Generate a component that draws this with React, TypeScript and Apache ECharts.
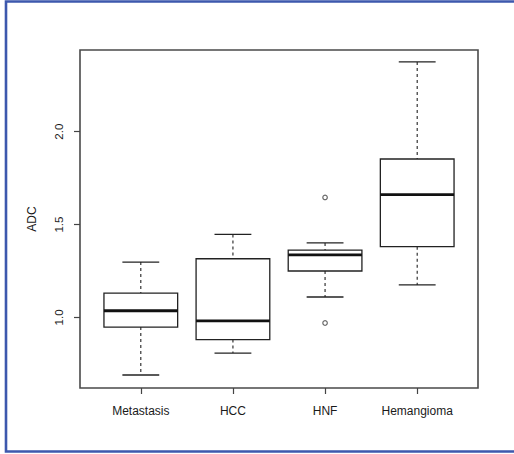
import React, { useEffect, useRef } from "react";
import * as echarts from "echarts";

const categories = ["Metastasis", "HCC", "HNF", "Hemangioma"];
const lowerWhisker = [0.69, 0.808, 1.11, 1.175];
const q1 = [0.948, 0.881, 1.25, 1.381];
const median = [1.036, 0.981, 1.337, 1.661];
const q3 = [1.131, 1.316, 1.362, 1.853];
const upperWhisker = [1.298, 1.447, 1.401, 2.376];
const outlierCategory = [3, 3];
const outlierValue = [1.646, 0.97];
const yTicks = [1.0, 1.5, 2.0];

const LINE = "#222";

export default function App() {
  const ref = useRef<HTMLDivElement>(null);
  useEffect(() => {
    if (!ref.current) return;
    const chart = echarts.init(ref.current, null, { renderer: "svg" });
    const boxData = categories.map((_, i) => [
      i + 1,
      lowerWhisker[i],
      q1[i],
      median[i],
      q3[i],
      upperWhisker[i],
    ]);
    const outlierData = outlierValue.map((v, i) => [outlierCategory[i], v]);
    const font = "'Liberation Sans', Arial, sans-serif";
    chart.setOption({
      animation: false,
      backgroundColor: "#fff",
      graphic: [
        {
          type: "rect",
          shape: { x: 6, y: 1.5, width: 530, height: 450 },
          style: { fill: "none", stroke: "#3d58ad", lineWidth: 2.6 },
          silent: true,
        },
      ],
      grid: {
        left: 80,
        top: 50,
        right: 36,
        bottom: 66,
        show: true,
        borderColor: "#4a4a4a",
        borderWidth: 1.6,
        backgroundColor: "transparent",
      },
      xAxis: {
        type: "value",
        min: 0.34,
        max: 4.66,
        splitLine: { show: false },
        axisLine: { show: false },
        axisTick: {
          show: true,
          customValues: [1, 2, 3, 4],
          length: 6,
          lineStyle: { color: "#444", width: 1.2 },
        },
        axisLabel: {
          customValues: [1, 2, 3, 4],
          formatter: (v: number) => categories[Math.round(v) - 1] ?? "",
          margin: 17,
          fontSize: 12,
          color: "#1a1a1a",
          fontFamily: font,
        },
      },
      yAxis: {
        type: "value",
        min: 0.62,
        max: 2.44,
        name: "ADC",
        nameLocation: "middle",
        nameGap: 42,
        nameRotate: 90,
        nameTextStyle: { fontSize: 12, color: "#1a1a1a", fontFamily: font },
        splitLine: { show: false },
        axisLine: { show: false },
        axisTick: {
          show: true,
          customValues: yTicks,
          length: 6,
          lineStyle: { color: "#444", width: 1.2 },
        },
        axisLabel: {
          customValues: yTicks,
          formatter: (v: number) => v.toFixed(1),
          rotate: 90,
          margin: 15,
          fontSize: 11.5,
          color: "#1a1a1a",
          fontFamily: font,
        },
      },
      series: [
        {
          type: "custom",
          data: boxData,
          encode: { x: 0, y: [1, 2, 3, 4, 5] },
          renderItem: (params: any, api: any) => {
            const x = api.value(0);
            const lo = api.coord([x, api.value(1)]);
            const b1 = api.coord([x, api.value(2)]);
            const md = api.coord([x, api.value(3)]);
            const b3 = api.coord([x, api.value(4)]);
            const hi = api.coord([x, api.value(5)]);
            const bw = api.size([0.8, 0])[0];
            const cw = api.size([0.4, 0])[0];
            const cx = lo[0];
            const solid = { stroke: LINE, lineWidth: 1.3, fill: "none" };
            const dashed = { stroke: LINE, lineWidth: 1.1, lineDash: [3, 3], fill: "none" };
            return {
              type: "group",
              children: [
                { type: "line", shape: { x1: cx, y1: hi[1], x2: cx, y2: b3[1] }, style: dashed },
                { type: "line", shape: { x1: cx, y1: b1[1], x2: cx, y2: lo[1] }, style: dashed },
                { type: "line", shape: { x1: cx - cw / 2, y1: hi[1], x2: cx + cw / 2, y2: hi[1] }, style: solid },
                { type: "line", shape: { x1: cx - cw / 2, y1: lo[1], x2: cx + cw / 2, y2: lo[1] }, style: solid },
                {
                  type: "rect",
                  shape: { x: cx - bw / 2, y: b3[1], width: bw, height: b1[1] - b3[1] },
                  style: { stroke: LINE, lineWidth: 1.3, fill: "#fff" },
                },
                { type: "line", shape: { x1: cx - bw / 2, y1: md[1], x2: cx + bw / 2, y2: md[1] }, style: { stroke: "#111", lineWidth: 2.8 } },
              ],
            };
          },
        },
        {
          type: "scatter",
          data: outlierData,
          symbol: "circle",
          symbolSize: 4.5,
          itemStyle: { color: "#fff", borderColor: "#444", borderWidth: 1.2 },
        },
      ],
    });
    return () => chart.dispose();
  }, []);
  return (
    <div
      ref={ref}
      style={{ position: "fixed", left: 0, top: 0, width: 514, height: 454 }}
    />
  );
}
